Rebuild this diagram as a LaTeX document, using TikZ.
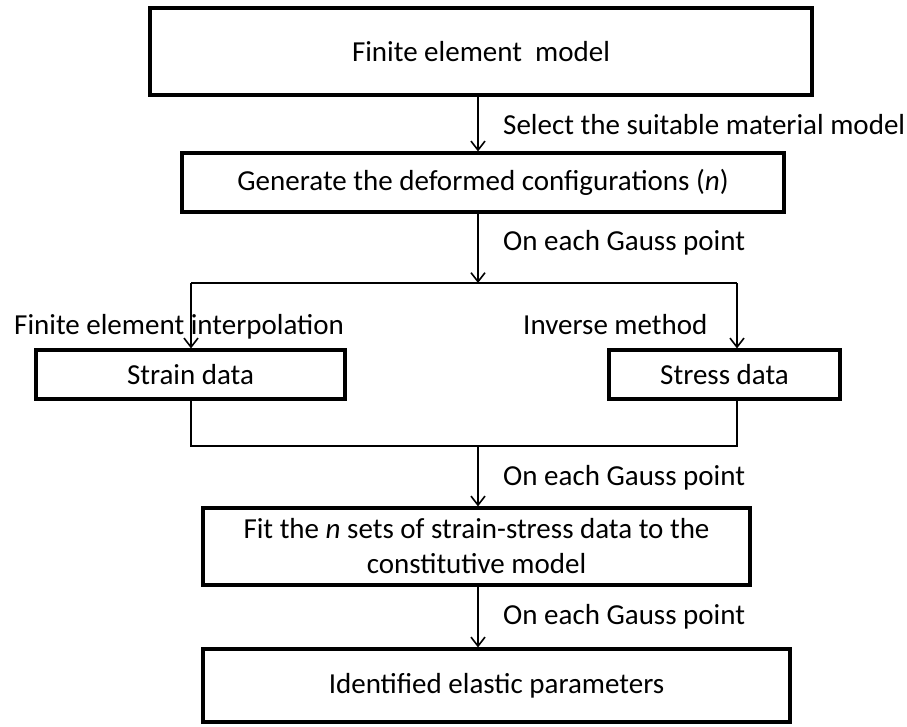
\documentclass[tikz,border=0pt]{standalone}
\usepackage{fontspec}
\setmainfont{Carlito}
\usetikzlibrary{arrows.meta}
\begin{document}
\begin{tikzpicture}[x=1pt,y=-1pt,
  txt/.style={font=\fontsize{29}{35}\selectfont, inner sep=0pt},
  box/.style={txt, draw=black, line width=3.2pt, rectangle, fill=white},
  lbl/.style={txt, anchor=west},
  conn/.style={line width=1.6pt, draw=black},
  arr/.style={conn, -{Straight Barb[length=9pt,width=14pt]}}]
  \useasboundingbox (0,0) rectangle (907,726);

  % x positions of the vertical connectors
  \coordinate (ax) at (478,0);
  \coordinate (bl) at (191,0);
  \coordinate (br) at (737,0);

  % boxes
  \node[box, minimum width=662pt, minimum height=87pt] (fem) at (481,51.5) {Finite element\ \ model};
  \node[box, minimum width=602pt, minimum height=59pt] (gen) at (483,182.5) {Generate the deformed configurations (\textit{n})};
  \node[box, minimum width=309pt, minimum height=49pt] (strain) at (190.5,374.5) {Strain data};
  \node[box, minimum width=231pt, minimum height=49pt] (stress) at (724.5,374.5) {Stress data};
  \node[box, minimum width=547pt, minimum height=77pt, align=center] (fit) at (476.5,546.5) {Fit the \textit{n} sets of strain-stress data to the\\constitutive model};
  \node[box, minimum width=587pt, minimum height=73pt] (ide) at (496.5,685.5) {Identified elastic parameters};

  % junction points
  \coordinate (split) at (478,283);
  \coordinate (merge) at (478,446);

  % connectors
  \draw[arr] (fem.south -| ax) -- (gen.north -| ax);
  \draw[arr] (gen.south -| ax) -- (split);
  \draw[conn] (split -| bl) -- (split -| br);
  \draw[arr] (split -| bl) -- (strain.north -| bl);
  \draw[arr] (split -| br) -- (stress.north -| br);
  \draw[conn] (strain.south -| bl) -- (merge -| bl) -- (merge -| br) -- (stress.south -| br);
  \draw[arr] (merge) -- (fit.north -| ax);
  \draw[arr] (fit.south -| ax) -- (ide.north -| ax);

  % connector labels
  \node[lbl] (l1) at (503,125) {Select the suitable material model};
  \node[lbl] (l2) at (503,243) {On each Gauss point};
  \node[lbl] (l3) at (14,327) {Finite element interpolation};
  \node[lbl] (l4) at (523,325) {Inverse method};
  \node[lbl] (l5) at (503,478) {On each Gauss point};
  \node[lbl] (l6) at (503,617) {On each Gauss point};
\end{tikzpicture}
\end{document}
